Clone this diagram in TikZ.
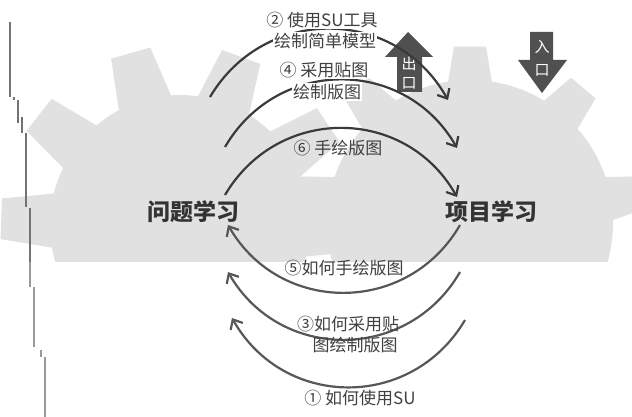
\documentclass[tikz,border=0pt]{standalone}
\usepackage{fontspec}
\setmainfont{Noto Sans CJK SC}
\usetikzlibrary{arrows.meta, positioning}
\definecolor{geargray}{HTML}{E1E1E1}
\definecolor{arcdark}{HTML}{3A3A3A}
\definecolor{arclight}{HTML}{575757}
\definecolor{doorgray}{HTML}{505050}
\tikzset{
  >={Straight Barb[length=8pt,width=14pt]},
  gear/.style={fill=geargray},
  flow/.style={->, line width=2.2pt, color=arcdark, bend left=60, looseness=1.15},
  flowback/.style={flow, color=arclight},
  topic/.style={font=\fontsize{23}{26}\selectfont\bfseries, text=black!80},
  lbl/.style={font=\fontsize{17}{19}\selectfont, text=black!75, inner sep=1pt},
  door/.style={fill=doorgray},
  doortext/.style={font=\fontsize{15}{17}\selectfont, text=white, inner sep=0pt},
}

\begin{document}
\begin{tikzpicture}[x=1pt,y=1pt]
  \useasboundingbox (0,0) rectangle (632,417);

  % gears in the back
  \begin{scope}
    \clip (0,155) rectangle (632,417);
    \fill[gear] (180,192) circle[radius=130];
    \foreach \a in {106,142,...,430}
      \fill[gear,shift={(180,192)}] ({\a-13}:124) -- ({\a-6.5}:180) -- ({\a+6.5}:180) -- ({\a+13}:124) -- cycle;
    \fill[gear] (470,194) circle[radius=143];
    \foreach \a in {90,130,...,410}
      \fill[gear,shift={(470,194)}] ({\a-9.5}:138) -- ({\a-5.2}:177) -- ({\a+5.2}:177) -- ({\a+9.5}:138) -- cycle;
  \end{scope}

  % stepped line on the left
  \draw[black!55, line width=2.2pt] (10,395) -- (10,320) (14,320) -- (14,317) (18,317) -- (18,294)
        (22,300) -- (22,284) (26,284) -- (26,210) (30,209) -- (30,155);
  \draw[black!40, line width=2.2pt] (30,155) -- (30,130) (34,130) -- (34,70) (41,67) -- (41,60) (45,60) -- (45,0);

  % exit and entry
  \fill[door] (397,325) -- (397,360) -- (385,360) -- (408,385) -- (433,360) -- (422,360) -- (422,325) -- cycle;
  \node[doortext] (chu) at (409,353) {出};
  \node[doortext] (chukou) at (409,334) {口};
  \fill[door] (530,385) -- (553,385) -- (553,357) -- (567,357) -- (542,324) -- (518,357) -- (530,357) -- cycle;
  \node[doortext] (ru) at (542,370) {入};
  \node[doortext] (rukou) at (542,347) {口};

  \node[topic] (wenti) at (193,205) {问题学习};
  \node[topic] (xiangmu) at (491,205) {项目学习};

  % arc ends
  \coordinate (s2) at (210,320); \coordinate (e2) at (448,317);
  \coordinate (s4) at (225,270); \coordinate (e4) at (457,269);
  \coordinate (s6) at (225,222); \coordinate (e6) at (457,220);
  \coordinate (s5) at (460,192); \coordinate (e5) at (228,192);
  \coordinate (s3) at (460,145); \coordinate (e3) at (228,145);
  \coordinate (s1) at (465,97);  \coordinate (e1) at (232,99);

  \draw[flow] (s2) to (e2);
  \draw[flow] (s4) to (e4);
  \draw[flow] (s6) to (e6);
  \draw[flowback] (s5) to (e5);
  \draw[flowback] (s3) to (e3);
  \draw[flowback] (s1) to (e1);

  % labels
  \node[lbl, fill=white] (l2a) at (322,397) {② 使用SU工具};
  \node[lbl, fill=white] (l2b) at (325,376) {绘制简单模型};
  \node[lbl, fill=white] (l4a) at (324,347) {④ 采用贴图};
  \node[lbl, fill=white] (l4b) at (327,325) {绘制版图};
  \node[lbl] (l6) at (338,269) {⑥ 手绘版图};
  \node[lbl] (l5) at (344,149) {⑤如何手绘版图};
  \node[lbl] (l3a) at (348,93) {③如何采用贴};
  \node[lbl] (l3b) at (355,72) {图绘制版图};
  \node[lbl] (l1) at (360,19) {① 如何使用SU};
\end{tikzpicture}
\end{document}
